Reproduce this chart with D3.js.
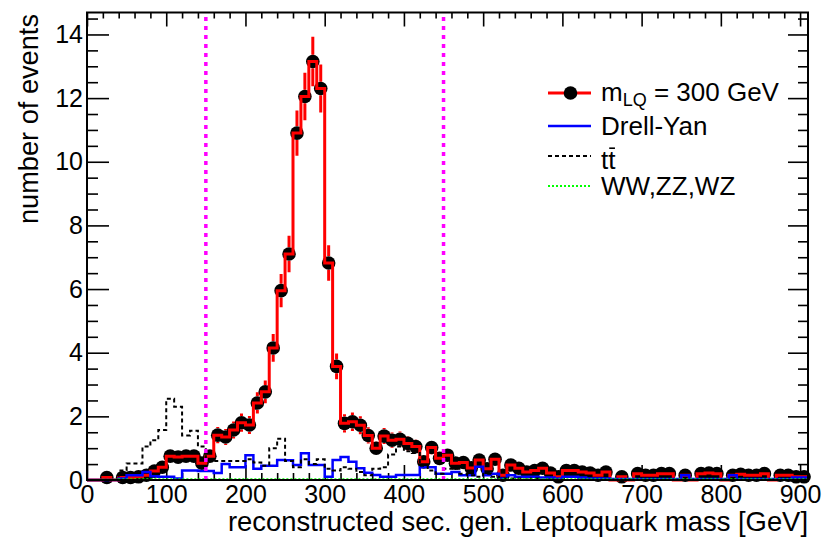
<!DOCTYPE html>
<html>
<head>
<meta charset="utf-8">
<script src="https://cdn.jsdelivr.net/npm/d3@7"></script>
<style>
  body { margin: 0; background: #fff; }
  text { font-family: "Liberation Sans", Arial, Helvetica, sans-serif; }
</style>
</head>
<body>
<svg id="chart" width="827" height="545"></svg>
<script>
// Histogram binning: 91 bins of 10 GeV, 0 to 910 GeV
const massRange = [0, 910];
const binWidth = 10;
const yRange = [0, 14.69];

// Signal: leptoquark m_LQ = 300 GeV (events per bin)
const signal = [
  0, 0, 0.08, 0, 0.08, 0.08, 0.1, 0.15, 0.28, 0.4,
  0.75, 0.72, 0.75, 0.75, 0.53, 0.75, 1.41, 1.35, 1.57, 1.8,
  1.73, 2.42, 2.77, 4.15, 5.95, 7.1, 10.9, 12.05, 13.15, 12.3,
  6.82, 3.57, 1.78, 1.83, 1.72, 1.4, 1.0, 1.38, 1.25, 1.28,
  1.15, 1.05, 0.57, 1.02, 0.68, 0.78, 0.53, 0.55, 0.38, 0.63,
  0.35, 0.65, 0.15, 0.47, 0.37, 0.25, 0.3, 0.37, 0.22, 0.1,
  0.3, 0.3, 0.25, 0.22, 0.15, 0.25, 0, 0.1, 0, 0.2,
  0.15, 0.15, 0.2, 0.2, 0, 0.15, 0, 0.2, 0.22, 0.2,
  0, 0.15, 0.18, 0.15, 0.15, 0.2, 0, 0.15, 0.15, 0.1,
  0.1
];
// Mean event weight of the signal sample (sets the statistical error bars)
const signalEventWeight = 0.046;

// Drell-Yan background
const drellYan = [
  0, 0, 0, 0, 0.05, 0.15, 0.15, 0.25, 0.12, 0.1,
  0.1, 0.05, 0.3, 0.3, 0.28, 0.28, 0.22, 0.5, 0.4, 0.4,
  0.78, 0.35, 0.45, 0.45, 0.63, 0.62, 0.47, 0.84, 0.47, 0.47,
  0.1, 0.63, 0.72, 0.57, 0.37, 0.23, 0.16, 0.1, 0.1, 0.16,
  0.16, 0.16, 0.4, 0.4, 0.2, 0.2, 0.25, 0.15, 0.15, 0.42,
  0.15, 0.2, 0.05, 0.15, 0.1, 0.1, 0.1, 0.08, 0.08, 0.05,
  0.1, 0.1, 0.08, 0.05, 0.05, 0.05, 0.03, 0.03, 0.03, 0.03,
  0.03, 0.03, 0.03, 0.03, 0.03, 0.15, 0.03, 0.03, 0.03, 0.03,
  0.03, 0.15, 0.03, 0.03, 0.03, 0.03, 0.03, 0.03, 0.03, 0.08,
  0.08
];

// ttbar background
const ttbar = [
  0, 0, 0, 0, 0.3, 0.52, 0.52, 1.05, 1.25, 1.57,
  2.55, 2.3, 1.4, 1.55, 1.05, 0.6, 0.6, 0.6, 0.6, 0.6,
  0.65, 0.55, 0.45, 1.0, 1.3, 0.6, 0.4, 0.65, 0.5, 0.65,
  0.35, 0.3, 0.4, 0.35, 0.25, 0.15, 0.35, 0.4, 0.8, 1.05,
  0.9, 0.85, 0.45, 0.3, 0.2, 0.35, 0.35, 0.2, 0.15, 0.1,
  0.2, 0.1, 0.05, 0.05, 0.05, 0, 0.05, 0, 0, 0,
  0, 0, 0, 0, 0, 0, 0, 0, 0, 0,
  0, 0, 0, 0, 0, 0, 0, 0, 0, 0,
  0, 0, 0, 0, 0, 0, 0, 0, 0, 0,
  0
];

// WW, ZZ, WZ background
const diboson = [
  0, 0, 0.01, 0.01, 0.02, 0.02, 0.02, 0.02, 0.02, 0.02,
  0.02, 0.02, 0.02, 0.02, 0.02, 0.02, 0.02, 0.02, 0.02, 0.02,
  0.02, 0.02, 0.02, 0.02, 0.02, 0.02, 0.02, 0.02, 0.02, 0.02,
  0.02, 0.02, 0.02, 0.02, 0.02, 0.02, 0.02, 0.02, 0.02, 0.02,
  0.02, 0.02, 0.02, 0.02, 0.02, 0.02, 0.02, 0.02, 0.02, 0.02,
  0.02, 0.02, 0.02, 0.02, 0.02, 0.02, 0.02, 0.02, 0.02, 0.02,
  0.02, 0.02, 0.02, 0.02, 0.02, 0.02, 0.02, 0.02, 0.02, 0.02,
  0.02, 0.02, 0.02, 0.02, 0.02, 0.02, 0.02, 0.02, 0.02, 0.02,
  0.02, 0.02, 0.02, 0.02, 0.02, 0.02, 0.02, 0.02, 0.02, 0.02,
  0.02
];

// Mass window cuts
const cutLines = [150, 450];

// Axis ticks
const xTickValues = [0, 100, 200, 300, 400, 500, 600, 700, 800, 900];
const yTickValues = [0, 2, 4, 6, 8, 10, 12, 14];

const legendEntries = [
  { key: "signal", color: "#ff0000", dash: null, width: 3 },
  { key: "Drell-Yan", color: "#0000ff", dash: null, width: 2.5 },
  { key: "ttbar", color: "#000000", dash: "4,3", width: 2 },
  { key: "WW,ZZ,WZ", color: "#00ff00", dash: "2,2", width: 2 }
];

// ---------------------------------------------------------------
const svg = d3.select("#chart");
const frame = { left: 87, right: 808, top: 12.5, bottom: 480 };

const x = d3.scaleLinear().domain(massRange).range([frame.left, frame.right]);
const y = d3.scaleLinear().domain(yRange).range([frame.bottom, frame.top]);

const lowEdge = i => massRange[0] + i * binWidth;
const center = i => lowEdge(i) + binWidth / 2;

// Step outline of a histogram
function stepPoints(values) {
  const pts = [[massRange[0], 0]];
  values.forEach((v, i) => pts.push([lowEdge(i), v]));
  pts.push([massRange[1], values[values.length - 1]]);
  return pts;
}
const stepLine = d3.line().x(d => x(d[0])).y(d => y(d[1])).curve(d3.curveStepAfter);

// ---------- axes ----------
const fontTick = 25;
function styleAxis(g, withLabels) {
  g.select(".domain").remove();
  g.selectAll(".tick line").attr("stroke", "#000").attr("stroke-width", 1.6);
  if (withLabels) {
    g.selectAll(".tick text").attr("font-size", fontTick).attr("fill", "#000")
      .style("font-family", '"Liberation Sans", Arial, sans-serif');
  } else {
    g.selectAll(".tick text").remove();
  }
}

const xMinorTicks = d3.range(0, 911, 20).filter(v => v % 100 !== 0);
const yMinorTicks = d3.range(0, 14.6, 0.5).filter(v => v % 2 !== 0);

// bottom
svg.append("g").attr("transform", `translate(0,${frame.bottom})`)
  .call(d3.axisBottom(x).tickValues(xTickValues).tickSize(-15).tickPadding(5).tickFormat(d3.format("d")))
  .call(g => styleAxis(g, true));
svg.append("g").attr("transform", `translate(0,${frame.bottom})`)
  .call(d3.axisBottom(x).tickValues(xMinorTicks).tickSize(-7).tickFormat(""))
  .call(g => styleAxis(g, false));
// top
svg.append("g").attr("transform", `translate(0,${frame.top})`)
  .call(d3.axisTop(x).tickValues(xTickValues).tickSize(-14).tickFormat(""))
  .call(g => styleAxis(g, false));
svg.append("g").attr("transform", `translate(0,${frame.top})`)
  .call(d3.axisTop(x).tickValues(xMinorTicks).tickSize(-6).tickFormat(""))
  .call(g => styleAxis(g, false));
// left
svg.append("g").attr("transform", `translate(${frame.left},0)`)
  .call(d3.axisLeft(y).tickValues(yTickValues).tickSize(-22).tickPadding(4).tickFormat(d3.format("d")))
  .call(g => styleAxis(g, true));
svg.append("g").attr("transform", `translate(${frame.left},0)`)
  .call(d3.axisLeft(y).tickValues(yMinorTicks).tickSize(-11).tickFormat(""))
  .call(g => styleAxis(g, false));
// right
svg.append("g").attr("transform", `translate(${frame.right},0)`)
  .call(d3.axisRight(y).tickValues(yTickValues).tickSize(-20).tickFormat(""))
  .call(g => styleAxis(g, false));
svg.append("g").attr("transform", `translate(${frame.right},0)`)
  .call(d3.axisRight(y).tickValues(yMinorTicks).tickSize(-10).tickFormat(""))
  .call(g => styleAxis(g, false));

// ---------- signal: error bars, markers, outline ----------
const markerR = 6.8;
const sig = svg.append("g");
const filled = signal.map((v, i) => ({ i, v, e: Math.sqrt(signalEventWeight * v) })).filter(d => d.v > 0);

sig.selectAll("path.err").data(filled).join("path")
  .attr("class", "err")
  .attr("d", d => {
    const cx = x(center(d.i)), cy = y(d.v);
    const top = y(d.v + d.e), bot = y(Math.max(0, d.v - d.e));
    let p = "";
    if (cy - markerR > top) p += `M${cx},${top}V${cy - markerR}`;
    if (bot > cy + markerR) p += `M${cx},${cy + markerR}V${bot}`;
    return p || null;
  })
  .attr("stroke", "#ff0000").attr("stroke-width", 3).attr("fill", "none");

sig.selectAll("circle").data(filled).join("circle")
  .attr("cx", d => x(center(d.i))).attr("cy", d => y(d.v)).attr("r", markerR)
  .attr("fill", "#000");

sig.append("path").attr("d", stepLine(stepPoints(signal)))
  .attr("fill", "none").attr("stroke", "#ff0000").attr("stroke-width", 3);

// ---------- backgrounds ----------
svg.append("path").attr("d", stepLine(stepPoints(drellYan)))
  .attr("fill", "none").attr("stroke", "#0000ff").attr("stroke-width", 2.5);
svg.append("path").attr("d", stepLine(stepPoints(ttbar)))
  .attr("fill", "none").attr("stroke", "#000").attr("stroke-width", 2).attr("stroke-dasharray", "4,3");
svg.append("path").attr("d", stepLine(stepPoints(diboson)))
  .attr("fill", "none").attr("stroke", "#00ff00").attr("stroke-width", 2).attr("stroke-dasharray", "2,2");

// ---------- mass window lines ----------
svg.selectAll("line.cut").data(cutLines).join("line")
  .attr("class", "cut")
  .attr("x1", d => x(d)).attr("x2", d => x(d))
  .attr("y1", frame.bottom).attr("y2", frame.top)
  .attr("stroke", "#ff00ff").attr("stroke-width", 3.5).attr("stroke-dasharray", "4,5");

// ---------- frame ----------
svg.append("rect")
  .attr("x", frame.left).attr("y", frame.top)
  .attr("width", frame.right - frame.left).attr("height", frame.bottom - frame.top)
  .attr("fill", "none").attr("stroke", "#000").attr("stroke-width", 2);

// ---------- axis titles ----------
svg.append("text")
  .attr("x", frame.right).attr("y", 531)
  .attr("text-anchor", "end").attr("font-size", 27.4)
  .text("reconstructed sec. gen. Leptoquark mass [GeV]");

svg.append("text")
  .attr("transform", "translate(38,14) rotate(-90)")
  .attr("text-anchor", "end").attr("font-size", 27.2)
  .text("number of events");

// ---------- legend ----------
const legend = svg.append("g");
const legRowY = [93, 126, 156, 186];
const lx0 = 548, lx1 = 591, tx = 601, legFont = 26;

legendEntries.forEach((d, k) => {
  const yy = legRowY[k];
  const row = legend.append("g");
  row.append("line").attr("x1", lx0).attr("x2", lx1).attr("y1", yy).attr("y2", yy)
    .attr("stroke", d.color).attr("stroke-width", d.width)
    .attr("stroke-dasharray", d.dash);
  if (d.key === "signal") {
    row.append("circle").attr("cx", (lx0 + lx1) / 2 + 1).attr("cy", yy).attr("r", markerR).attr("fill", "#000");
    const t = row.append("text").attr("x", tx).attr("y", yy + 8).attr("font-size", legFont);
    t.append("tspan").text("m");
    t.append("tspan").attr("font-size", 18).attr("dy", 5).text("LQ");
    t.append("tspan").attr("dy", -5).text(" = 300 GeV");
  } else if (d.key === "ttbar") {
    const base = yy + 13;
    row.append("text").attr("x", tx).attr("y", base).attr("font-size", legFont).text("tt");
    const w = legFont * 0.278;
    row.append("line")
      .attr("x1", tx + w + 1).attr("x2", tx + 2 * w - 0.5)
      .attr("y1", base - legFont * 0.8).attr("y2", base - legFont * 0.8)
      .attr("stroke", "#000").attr("stroke-width", 1.6);
  } else {
    row.append("text").attr("x", tx).attr("y", yy + 9).attr("font-size", legFont).text(d.key);
  }
});
</script>
</body>
</html>
